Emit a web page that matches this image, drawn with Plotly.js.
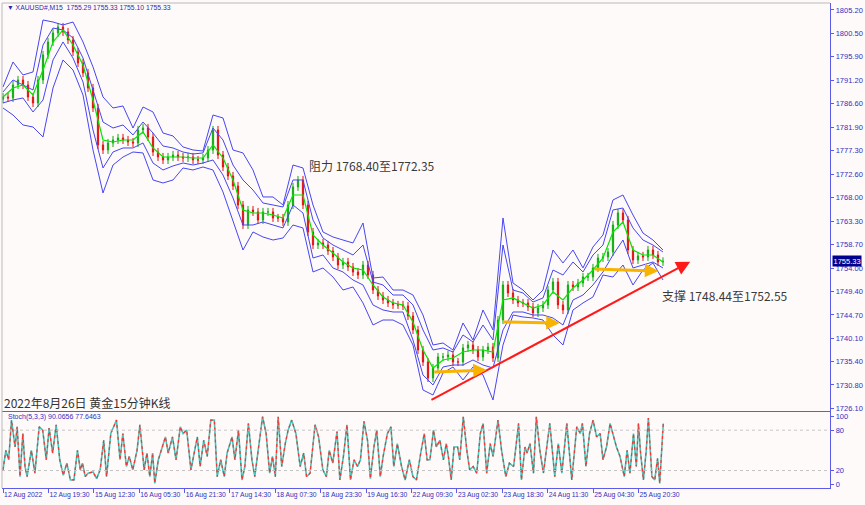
<!DOCTYPE html>
<html><head><meta charset="utf-8">
<script src="https://cdn.plot.ly/plotly-3.0.1.min.js"></script>
<style>html,body{margin:0;padding:0;background:#fffafa;} #chart{width:865px;height:505px;}</style>
</head><body><div id="chart"></div>
<script>
// ---- data ----
const barsPerSample = 7.05;      // M15 bars between sampled candles
const bandEvery = 2;             // bands / MA sampled every 2 candles
const barsPerLabel = 64;         // time label every 64 bars
const firstOpen = 1787.5;

const closes = [1787.94,1787.74,1790.32,1791.31,1790.32,1787.94,1786.75,1791.31,1796.27,1798.85,
1800.64,1801.83,1800.84,1799.25,1796.87,1794.69,1792.70,1789.73,1785.76,1778.42,
1777.43,1778.81,1779.41,1779.81,1779.41,1779.01,1778.81,1781.39,1781.79,1780.00,
1777.03,1776.04,1775.44,1776.04,1776.43,1776.04,1775.84,1776.04,1775.44,1775.44,
1775.84,1777.43,1781.39,1776.43,1774.05,1772.27,1770.28,1766.51,1762.55,1765.52,
1765.13,1763.54,1765.13,1765.13,1763.94,1763.94,1763.14,1766.51,1770.09,1771.47,
1766.51,1761.16,1758.58,1758.98,1758.58,1757.39,1756.20,1754.61,1755.21,1754.21,
1753.22,1752.63,1754.61,1752.63,1749.65,1748.46,1747.67,1747.07,1746.68,1746.68,
1746.48,1744.49,1741.72,1737.75,1735.37,1732.19,1734.18,1736.36,1736.36,1736.76,
1735.37,1735.37,1738.14,1738.74,1737.75,1736.36,1737.75,1738.34,1736.16,1743.70,
1750.64,1749.06,1747.67,1747.07,1747.07,1746.28,1745.09,1746.08,1746.68,1749.65,
1751.24,1746.68,1745.68,1750.64,1750.25,1751.04,1752.23,1752.23,1754.02,1756.00,
1756.20,1757.19,1762.55,1764.93,1763.54,1757.59,1755.60,1756.40,1756.20,1757.59,
1756.60,1755.21,1755.33];

const upperOuter = [1789.92,1794.88,1792.30,1792.90,1803.21,1802.81,1802.22,1802.81,1798.85,1793.89,
1787.94,1785.75,1786.15,1781.78,1785.95,1784.96,1780.79,1780.20,1778.02,1777.42,
1777.22,1784.36,1783.77,1777.42,1776.83,1773.45,1768.10,1768.10,1766.51,1774.44,
1773.85,1766.51,1761.15,1760.16,1759.56,1758.97,1762.94,1752.02,1752.22,1749.64,
1749.64,1748.65,1744.68,1738.73,1739.13,1737.74,1743.10,1739.72,1745.68,1741.71,
1763.93,1751.03,1749.64,1747.66,1749.64,1757.58,1755.00,1757.58,1754.01,1758.18,
1760.56,1767.50,1768.49,1764.52,1760.95,1759.56,1757.58];
const upperInner = [1788.93,1791.31,1790.32,1789.32,1798.25,1801.62,1801.23,1799.64,1795.67,1789.32,
1782.97,1781.78,1782.38,1780.40,1782.97,1780.79,1778.21,1777.82,1777.02,1776.63,
1776.83,1781.78,1779.40,1774.44,1771.47,1769.48,1766.90,1766.51,1766.11,1771.47,
1771.47,1763.53,1759.96,1758.57,1757.58,1756.59,1758.57,1751.23,1750.64,1748.65,
1748.65,1746.67,1741.71,1737.74,1738.14,1737.34,1740.72,1739.33,1742.70,1739.72,
1758.57,1749.64,1749.05,1747.26,1748.06,1753.61,1752.62,1755.20,1753.22,1756.59,
1758.57,1765.52,1765.91,1761.95,1759.56,1758.57,1757.18];
const lowerInner = [1786.75,1787.34,1787.74,1784.96,1787.34,1795.28,1798.85,1795.67,1790.91,1781.39,
1773.85,1777.02,1777.82,1777.82,1778.81,1774.84,1773.45,1774.25,1774.84,1774.44,
1774.84,1775.44,1772.46,1767.90,1762.54,1762.54,1763.14,1762.54,1761.95,1766.51,
1764.92,1755.99,1756.59,1754.01,1753.22,1751.63,1750.64,1746.67,1745.68,1745.28,
1745.28,1739.72,1732.78,1730.80,1734.37,1734.76,1734.76,1735.76,1734.76,1734.17,
1741.71,1745.28,1745.28,1744.68,1744.68,1744.09,1742.70,1747.66,1748.65,1750.64,
1753.22,1756.59,1759.56,1754.01,1754.60,1755.20,1754.01];
const lowerOuter = [1785.75,1784.36,1782.38,1781.98,1780.00,1789.72,1795.28,1793.29,1788.33,1777.42,
1768.89,1774.44,1776.03,1777.02,1776.83,1771.47,1770.87,1771.47,1773.85,1773.45,
1774.05,1773.45,1769.09,1763.53,1757.58,1761.15,1760.16,1759.56,1759.96,1762.54,
1761.95,1753.22,1754.01,1752.22,1749.64,1750.24,1747.07,1742.70,1743.69,1743.69,
1742.70,1738.73,1729.80,1728.81,1733.18,1734.37,1731.79,1734.37,1732.78,1727.82,
1738.73,1744.68,1744.29,1744.09,1743.69,1740.72,1738.73,1745.68,1747.07,1748.26,
1752.62,1752.22,1754.60,1750.64,1753.61,1755.00,1751.63];
const maLine = [1787.94,1789.72,1790.32,1788.33,1793.29,1798.85,1801.23,1798.25,1794.28,1787.34,
1779.40,1779.01,1779.40,1779.40,1780.99,1777.82,1776.03,1776.03,1776.03,1775.83,
1775.83,1778.41,1775.83,1771.47,1765.52,1764.92,1764.92,1764.52,1763.93,1768.49,
1768.49,1760.56,1758.57,1756.98,1755.20,1754.01,1753.61,1750.64,1748.26,1747.07,
1746.67,1743.30,1737.74,1734.17,1735.76,1736.15,1737.34,1737.74,1737.74,1737.34,
1747.66,1748.06,1747.07,1746.07,1746.67,1749.25,1747.66,1750.04,1751.63,1753.61,
1755.99,1761.15,1763.14,1757.58,1756.59,1756.59,1755.20];

// stochastic turning points: bar index and %K value
const stochBar = [0,4,8,12,17,20,24,28,31,34,40,45,51,56,61,65,70,75,80,85,90,95,100,105,109,112,116,120,127,132,
137,142,146,152,156,160,165,169,174,178,183,189,193,199,203,207,211,214,219,224,229,233,239,244,250,254,259,265,269,274,
278,283,288,293,298,302,307,312,316,323,327,332,337,341,346,351,355,360,366,371,376,380,384,388,393,398,402,407,413,419,
424,428,433,440,445,451,456,460,465,471,475,480,485,490,495,500,504,509,514,518,523,527,532,536,542,547,551,556,562,567,
573,578,583,589,594,598,602,607,611,616,621,625,628,632,636,641,644,649,654,658,663,668,673,677,682,687,691,698,703,709,
714,720,727,731,736,739,743,748,752,757,762,771,778,783,788,795,802,809,814,817,822,827,832,837,842,846,851,856,861,865,
870,876,880,884,889,893,896,899,903,907,910,915,919,923,926,931];
const stochK = [21,50,36,95,55,85,11,75,26,11,50,16,85,80,36,83,46,88,36,13,31,6,6,50,21,31,11,16,18,8,
21,65,11,75,85,95,36,75,26,41,21,50,88,21,46,11,46,1,36,55,70,46,70,36,85,75,80,21,41,70,
26,65,41,95,95,11,36,11,46,70,36,80,6,26,90,36,11,55,100,75,16,41,11,100,26,60,80,95,75,26,
46,11,16,88,70,21,11,50,31,78,6,41,88,6,36,26,36,93,65,8,55,80,11,41,75,85,26,60,26,6,
36,11,6,46,75,36,36,80,55,65,36,60,41,6,55,55,36,100,50,21,26,16,75,90,16,60,41,95,50,11,
31,26,90,6,55,46,60,16,100,50,16,90,11,60,16,90,6,85,75,90,26,75,95,70,75,36,55,90,70,55,
41,11,50,16,75,26,90,46,6,50,98,11,6,38,1,90];

const priceTicks = [1805.20,1800.50,1795.90,1791.20,1786.60,1781.90,1777.30,1772.60,1768.00,1763.30,1758.70,1754.00,1749.40,1744.70,1740.10,1735.40,1730.80,1726.10];
const timeLabels = ["12 Aug 2022","12 Aug 19:30","15 Aug 12:30","16 Aug 05:30","16 Aug 21:30","17 Aug 14:30","18 Aug 07:30","18 Aug 23:30","19 Aug 16:30","22 Aug 09:30","23 Aug 02:30","23 Aug 18:30","24 Aug 11:30","25 Aug 04:30","25 Aug 20:30"];

const lastPrice = 1755.33;
const headerText = "XAUUSD#,M15\u00a0 1755.29 1755.33 1755.10 1755.33";
const stochText = "Stoch(5,3,3) 90.0656 77.6463";
const resistText = "阻力 1768.40至1772.35";
const supportText = "支撑 1748.44至1752.55";
const titleText = "2022年8月26日 黄金15分钟K线";

// analyst drawings (bar index, price)
const trendLine = {x0: 602, y0: 1727.68, x1: 969, y1: 1755.26};
const supportArrows = [
  {x0: 606, y0: 1733.38, x1: 682, y1: 1733.77},
  {x0: 704, y0: 1743.30, x1: 785, y1: 1743.10},
  {x0: 832, y0: 1753.81, x1: 924, y1: 1753.41}
];
const resistPos = {x: 429, y: 1774.25};
const supportPos = {x: 926, y: 1748.65};

// ---- build ----
const wick = 0.8;
const cx = closes.map((_, i) => i * barsPerSample);
const opens = closes.map((c, i) => i ? closes[i - 1] : firstOpen);
const highs = closes.map((c, i) => Math.max(c, opens[i]) + wick);
const lows = closes.map((c, i) => Math.min(c, opens[i]) - wick);
const bx = upperOuter.map((_, k) => k * bandEvery * barsPerSample);

const blue = '#4646f2';
const axisBlue = '#5c5ce8';
const textBlue = '#3030c0';
const tickFont = {family: 'Liberation Sans, Arial, sans-serif', size: 7.5, color: textBlue};
const timeFont = {family: 'Liberation Sans, Arial, sans-serif', size: 6.8, color: textBlue};
const bandLine = (y) => ({type: 'scatter', mode: 'lines', x: bx, y: y, xaxis: 'x', yaxis: 'y',
  line: {color: blue, width: 1}, hoverinfo: 'skip', showlegend: false});

const traces = [
  bandLine(upperOuter), bandLine(upperInner), bandLine(lowerInner), bandLine(lowerOuter),
  {type: 'candlestick', x: cx, open: opens, high: highs, low: lows, close: closes,
   xaxis: 'x', yaxis: 'y', showlegend: false, hoverinfo: 'skip', whiskerwidth: 0,
   increasing: {line: {color: '#10a810', width: 1}, fillcolor: '#30e030'},
   decreasing: {line: {color: '#e01010', width: 1}, fillcolor: '#ff3030'}},
  {type: 'scatter', mode: 'lines', x: bx, y: maLine, xaxis: 'x', yaxis: 'y',
   line: {color: '#00e600', width: 1.2}, hoverinfo: 'skip', showlegend: false},
  {type: 'scatter', mode: 'lines', x: stochBar, y: stochK, xaxis: 'x2', yaxis: 'y2',
   line: {color: '#40c8bc', width: 1.6}, hoverinfo: 'skip', showlegend: false},
  {type: 'scatter', mode: 'lines', x: stochBar, y: stochK, xaxis: 'x2', yaxis: 'y2',
   line: {color: '#ff3030', width: 1.2, dash: 'dot'}, hoverinfo: 'skip', showlegend: false}
];

const xr = [-1.41, 1166.1];
const annotations = [
  {xref: 'paper', yref: 'paper', x: 0.004, y: 0.9897, xanchor: 'left', yanchor: 'middle', showarrow: false,
   text: '▼\u00a0' + headerText, font: {family: 'Liberation Sans, Arial, sans-serif', size: 6.8, color: '#2a2ab0'}},
  {xref: 'paper', yref: 'paper', x: 0.005, y: 0.1464, xanchor: 'left', yanchor: 'middle', showarrow: false,
   text: stochText, font: {family: 'Liberation Sans, Arial, sans-serif', size: 7, color: textBlue}},
  {xref: 'paper', yref: 'paper', x: 0.0005, y: 0.1773, xanchor: 'left', yanchor: 'middle', showarrow: false,
   text: titleText, font: {family: 'Noto Sans CJK SC, sans-serif', size: 12, color: '#333333'}},
  {xref: 'x', yref: 'y', x: resistPos.x, y: resistPos.y, xanchor: 'left', yanchor: 'middle', showarrow: false,
   text: resistText, font: {family: 'Noto Sans CJK SC, sans-serif', size: 12, color: '#3a3a3a'}},
  {xref: 'x', yref: 'y', x: supportPos.x, y: supportPos.y, xanchor: 'left', yanchor: 'middle', showarrow: false,
   text: supportText, font: {family: 'Noto Sans CJK SC, sans-serif', size: 12, color: '#3a3a3a'}},
  {xref: 'x', yref: 'y', axref: 'x', ayref: 'y', x: trendLine.x1, y: trendLine.y1, ax: trendLine.x0, ay: trendLine.y0,
   text: '', showarrow: true, arrowhead: 2, arrowsize: 1.4, arrowwidth: 2, arrowcolor: '#ff1a1a', standoff: 0, startstandoff: 0},
  {xref: 'paper', yref: 'y', x: 1.0024, y: lastPrice, xanchor: 'left', yanchor: 'middle', showarrow: false,
   text: lastPrice.toFixed(2), bgcolor: '#000090', borderpad: 0.5,
   font: {family: 'Liberation Sans, Arial, sans-serif', size: 7.5, color: '#ffffff'}}
];
supportArrows.forEach(a => annotations.push({xref: 'x', yref: 'y', axref: 'x', ayref: 'y',
  x: a.x1, y: a.y1, ax: a.x0, ay: a.y0, text: '', showarrow: true, arrowhead: 2, arrowsize: 0.9,
  arrowwidth: 3, arrowcolor: '#f7b300', standoff: 0, startstandoff: 0}));

const layout = {
  width: 865, height: 505,
  margin: {l: 2, r: 35, t: 3, b: 17},
  paper_bgcolor: '#fffafa', plot_bgcolor: '#fffafa',
  showlegend: false, hovermode: false, boxgap: 0.65,
  xaxis: {domain: [0, 1], range: xr, anchor: 'y', showticklabels: false, ticks: '', showgrid: false, zeroline: false,
          showline: true, linecolor: axisBlue, linewidth: 1, rangeslider: {visible: false}, fixedrange: true},
  yaxis: {domain: [0.1588, 1], range: [1725.64, 1806.58], side: 'right', anchor: 'x',
          tickvals: priceTicks, ticktext: priceTicks.map(v => v.toFixed(2)), tickfont: tickFont,
          ticks: 'outside', ticklen: 3, tickcolor: axisBlue, showgrid: false, zeroline: false,
          showline: true, linecolor: axisBlue, linewidth: 1.2},
  xaxis2: {domain: [0, 1], range: xr, anchor: 'y2', showgrid: false, zeroline: false,
           tickvals: timeLabels.map((_, i) => i * barsPerLabel), ticktext: timeLabels, tickangle: 0,
           ticklabelposition: 'outside right', tickfont: timeFont, ticks: 'outside', ticklen: 4, tickcolor: axisBlue,
           showline: true, mirror: true, linecolor: axisBlue, linewidth: 1.2},
  yaxis2: {domain: [0, 0.1567], range: [-5.94, 107], side: 'right', anchor: 'x2',
           tickvals: [0, 20, 80, 100], ticktext: ['0', '20', '80', '100'], tickfont: tickFont,
           ticks: 'outside', ticklen: 3, tickcolor: axisBlue, showgrid: false, zeroline: false,
           showline: true, linecolor: axisBlue, linewidth: 1.2},
  shapes: [
    {type: 'line', xref: 'paper', yref: 'y2', x0: 0, x1: 1, y0: 80, y1: 80, line: {color: '#c4c4c4', width: 1, dash: 'dot'}},
    {type: 'line', xref: 'paper', yref: 'y2', x0: 0, x1: 1, y0: 20, y1: 20, line: {color: '#c4c4c4', width: 1, dash: 'dot'}},
    {type: 'line', xref: 'paper', yref: 'paper', x0: 0, x1: 1, y0: 1, y1: 1, line: {color: '#b8b8b8', width: 1}},
    {type: 'line', xref: 'paper', yref: 'paper', x0: 0, x1: 0, y0: 0, y1: 1, line: {color: '#b8b8b8', width: 1}}
  ],
  annotations: annotations
};

Plotly.newPlot('chart', traces, layout, {staticPlot: true, displayModeBar: false});
</script>
</body></html>
